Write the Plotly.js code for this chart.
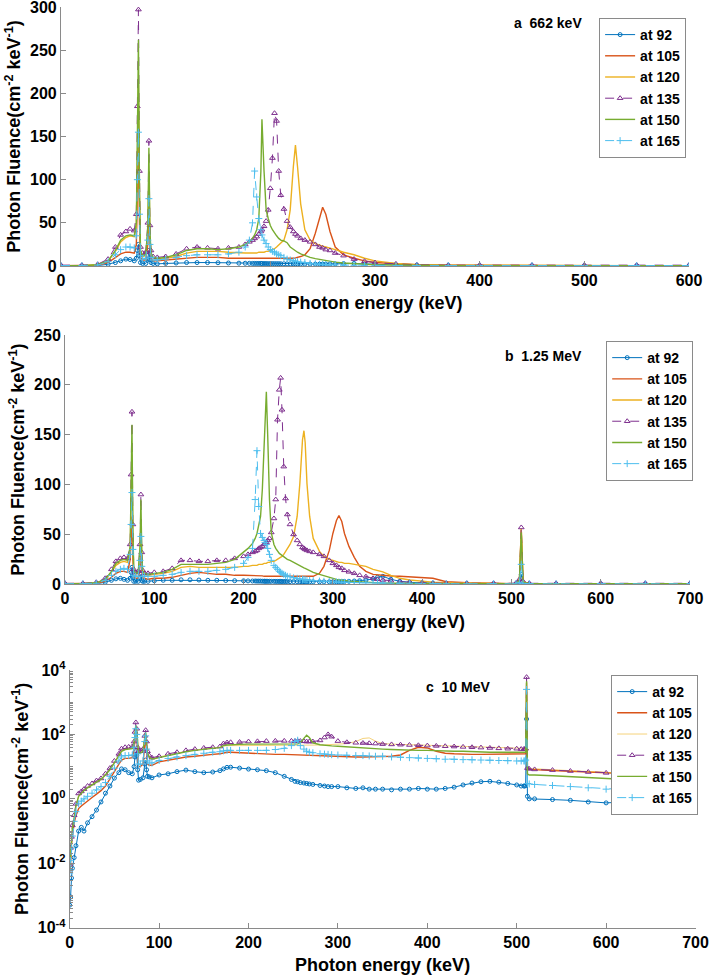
<!DOCTYPE html>
<html>
<head>
<meta charset="utf-8">
<script src="https://cdn.plot.ly/plotly-3.0.1.min.js"></script>
<style>html,body{margin:0;padding:0;background:#fff;}#chart{width:709px;height:978px;}</style>
</head>
<body>
<div id="chart"></div>
<script>
// ---------------- DATA ----------------
const seriesNames = ['at 92','at 105','at 120','at 135','at 150','at 165'];
const panelLabels = ['a\u00a0\u00a0662 keV','b\u00a0\u00a01.25 MeV','c\u00a0\u00a010 MeV'];

// Panel a: 662 keV
const energyA = [0,20,35,45,52,57,62,66,70,72, 73,74,75,76,78,81,83,84,85,86, 88,92,100,110,120,130,140,150,160,170, 176,180,183,185,187,189,191,192,194,196, 198,200,202,204,206,208,210,213,216,219, 222,224,226,229,233,238,243,247,250,253, 257,262,270,280,290,300,320,340,370,400, 450,500,550,600];
const a92  = [0.3,0.3,0.5,2,4,6,8,7.5,6,9, 18,25,12,4,3,3,8,18,7,4, 3,2.5,3,3.5,4,4,4,3.8,3.5,3.3, 3.2,3.1,3,3,3,3,3,2.9,2.9,2.9, 2.8,2.8,2.8,2.7,2.7,2.7,2.6,2.6,2.5,2.5, 2.5,2.4,2.4,2.4,2.3,2.3,2.2,2.2,2.2,2.2, 2.3,2.5,2.8,3,2.5,1.8,1.2,0.9,0.6,0.5, 0.4,0.4,0.4,0.4];
const a105 = [0.5,0.5,1,4,10,14,16,16,15,25, 80,140,50,10,7,7,25,60,20,8, 6,6,7,8,9,10,10,10,9,9, 9,8.5,8.5,8.5,8.5,8.5,8.5,8.5,8.5,8.5, 8.5,8.5,8.5,8.5,8.5,8.5,8.5,8.5,9,9, 9,9.5,10,11,13,20,38,56,68,60, 40,22,13,9,6,4,2.5,1.5,1,0.7, 0.5,0.5,0.5,0.5];
const a120 = [0.5,0.5,1.5,6,17,28,33,35,34,45, 130,210,80,16,11,12,40,110,35,13, 9,8,9,11,15,17,17,17,16,15, 15,15,15,15,15,16,16,16,16,17, 17,18,19,20,22,24,26,30,42,65, 115,140,115,72,42,30,26,24,23,22, 21,19,16,13,9,6,3,1.5,1,0.8, 0.5,0.5,0.5,0.5];
const a135 = [1,1,2,8,22,36,40,43,41,60, 185,297,110,22,15,16,50,145,47,18, 11,10,11,14,20,22,21,20,21,22, 25,28,30,32,34,37,40,42,46,52, 65,90,125,177,168,110,82,66,52,45, 40,37,35,32,30,28,25,22,21,19, 18,15,12,8,5.5,4,2.5,1.5,1,1, 1,1,1,1];
const a150 = [0.5,0.5,1.5,6,18,30,35,36,35,50, 150,262,90,18,12,13,45,137,40,15, 10,9,10,13,18,20,20,19,20,22, 25,28,32,36,42,55,110,170,110,65, 55,47,42,38,35,32,30,29,27,22, 19,17,16,14,12,10,8.5,7.5,7,6, 5.5,4.5,3.5,2.5,2,1.5,1,0.7,0.5,0.5, 0.5,0.5,0.5,0.5];
const a165 = [0.5,0.5,1,5,13,19,22,22,21,35, 100,155,60,12,8,9,30,78,25,10, 7,7,8,10,12,13,13,13,14,16, 22,30,50,110,80,55,42,36,30,26, 22,19,17,16,14,13,12,10,8,7, 6,5.5,5,4.5,4,3,2.5,2,2,1.5, 1.5,1.2,1,0.8,0.8,0.7,0.5,0.5,0.5,0.5, 0.5,0.5,0.5,0.5];

// Panel b: 1.25 MeV
const energyB = [0,20,35,45,52,57,62,66,70,73, 74,75,76,77,79,82,84,85,86,87, 89,93,100,110,120,130,140,150,160,170, 180,190,200,205,210,213,215,217,219,221, 223,224,225.5,227,229,231,234,236,238,240, 241.5,243,245,247,249,252,256,260,263,266, 267.6,269,271,274,278,285,290,296,300,304, 306.8,310,313,318,324,330,337,345,350,356, 365,375,386,400,412,427,450,480,505,509, 511,513,520,550,600,650,700];
const b92  = [0.3,0.3,0.5,2,4,5.5,6,5,4,6, 12,17,7,3,3,3,6,10,4,3, 3,3,3.5,4,4,4.5,4.5,4.3,4,4, 3.8,3.6,3.5,3.4,3.3,3.3,3.2,3.2,3.2,3.1, 3.1,3.1,3,3,3,3,3,2.9,2.9,2.9, 2.9,2.8,2.8,2.8,2.8,2.7,2.7,2.7,2.6,2.6, 2.6,2.6,2.6,2.5,2.5,2.5,2.5,2.5,2.5,2.6, 2.6,2.7,2.8,3,3.3,3.6,4.2,5.5,7,8, 5,3,2,1.5,1.2,1,0.8,0.6,0.5,1, 10,0.5,0.4,0.4,0.4,0.4,0.4];
const b105 = [0.5,0.5,1,3,7,11,13,13,12,25, 45,68,25,7,6,6,18,38,14,6, 6,5,6,6,7,9,11,12,11,10, 10,9,9,9,9,9,9,8.5,8.5,8.5, 8,8,8,8,8,8,8,8,8,8, 8,8,8,8,8,8,8,8,8,8, 8,8,8,8,8,11,18,34,51,64, 69,63,51,38,27,18,13,10,9.5,9, 8.3,8,7.6,6.8,6,2.6,1.5,1,0.6,5, 55,3,0.5,0.5,0.5,0.5,0.5];
const b120 = [0.5,0.5,1.5,5,12,19,22,23,22,35, 85,130,45,12,10,11,30,65,24,11, 10,9,10,11,13,17,18,17,17,17, 17,17,18,18,19,19,19,20,20,20, 21,21,21,22,22,23,23,24,25,26, 27,28,30,33,36,40,48,68,101,145, 154,142,101,68,46,33,28,25,24,23, 22,22,21,21,20,19,18,15,14,12.5, 9,6,4.3,3,2.2,1.6,1,0.8,0.6,5, 56,3,0.5,0.5,0.5,0.5,0.5];
const b135 = [1,1,2,6,15,23,26,27,26,40, 110,173,60,15,12,13,40,90,32,14, 11,11,12,13,16,24,24,23,23,24, 24,26,28,30,32,33,34,36,37,38, 40,41,42,44,46,52,66,85,165,195, 207,175,118,86,70,60,50,44,40,37, 36,35,34,33,32,30,28,24,21,19, 17,16,14,12.5,11,9,7.7,6,5,4.3, 3.5,2.6,2,1.5,1,1,1,1,1,5, 57,3,1,1,1,1,1];
const b150 = [0.5,0.5,1.5,5,13,21,24,25,24,38, 100,160,55,14,11,12,38,85,30,13, 11,10,11,12,15,20,20,20,20,21, 22,25,32,36,41,46,51,58,68,95, 140,168,193,150,85,52,40,36,33,31, 30,29,27,26,25,24,22,20,18,17, 16.5,16,15,14,12,10,8.5,7,6,5, 4.5,4,3.6,3.2,2.8,2.4,2,1.6,1.4,1.2, 1,0.8,0.6,0.5,0.5,0.5,0.5,0.5,0.5,4, 52,2,0.5,0.5,0.5,0.5,0.5];
const b165 = [0.5,0.5,1,4,9,13,15,16,15,30, 60,92,35,9,8,8,24,48,18,8, 8,8,8,9,10,12,13,13,13,14, 15,17,21,27,36,85,134,78,51,47, 44,42,40,36,30,24,19,17,15,13, 12,11,10,9,8,7.5,6.5,6,5.5,5, 4.8,4.5,4.3,4,3.6,3.2,3,2.7,2.5,2.3, 2.2,2.1,2,1.9,1.8,1.6,1.5,1.4,1.3,1.2, 1.1,1,1,0.8,0.7,0.6,0.5,0.5,0.5,2, 20,1,0.5,0.5,0.5,0.5,0.5];

// Panel c: 10 MeV (log scale)
const energyC = [0,1,2,3,5,7,10,13,16,20, 25,30,35,40,45,50,55,58,62,66, 70,72,73,74,75,76,77,79,82,84, 85,86,87,89,92,100,110,120,130,140, 150,160,168,172,176,180,190,200,210,220, 230,240,248,252,255,258,262,265,268,272, 280,285,289,293,300,310,320,328,335,342, 350,360,370,380,390,400,410,420,430,440, 450,460,470,480,490,500,505,508,509,510, 511,512,514,520,540,560,580,600,620,640, 660,680,700];
const c92  = [0.0005,0.0009,0.0035,0.007,0.015,0.035,0.1,0.13,0.1,0.18, 0.28,0.45,0.8,1.5,2.5,4.4,6.5,8.5,8,6.5, 6,10,20,29,22,8,3.8,4,4.5,12, 16,8,5,4.8,4.5,5.5,6,7,7.8,7, 6.5,6.8,7.5,8.5,9.5,9.6,9,8.4,8,7.5, 6.5,5,4,3.5,3.4,3.2,3.1,3,2.9,2.8, 2.6,2.5,2.4,2.4,2.4,2.2,2.1,2.2,2,2, 2,1.9,2,2,2.1,2,2,2.1,2.3,2.7, 3.1,3.4,3.5,3.3,3,2.7,2.5,2.5,2.5,2.6, 300,1.2,1,1,0.95,0.9,0.8,0.75,0.8,0.75, 0.7,0.72,0.75];
const c105 = [0.005,0.01,0.04,0.08,0.18,0.3,0.5,0.6,0.7,0.9, 1.1,1.4,1.8,2.5,4,7,12,16,18,18, 19,35,70,120,80,20,10,10,12,50, 90,30,12,11,11,14,16,18,20,21, 23,24,25,27,28,28,27,26,25,25, 24,24,23.5,23,23,23,22.5,22.5,22,22, 21.5,21,21,21,20,20,20,20,20,20, 20,21,23,32,40,38,30,26,25,24, 24,24,24,24,24,24,24,24,24,25, 4000,8.5,8.2,8,7.6,7.2,6.8,6.4,6,5.7, 5.4,5.1,4.9];
const c120 = [0.007,0.025,0.06,0.13,0.28,0.6,1.3,1.6,1.9,2.3, 2.8,3.5,4.2,5.8,8.5,14,24,33,37,38, 39,55,110,200,135,36,27,27,32,85, 120,55,27,21,18,20,23,27,30,33, 36,38,40,44,45,45,45,45,45,45, 46,46,46,46,46,46,46,46,46,47, 47,47,48,48,50,52,60,75,78,62, 52,50,49,48,47,46,45,44,43,42, 41,40,39,38,37,37,36,36,36,37, 5000,9,8.8,8.5,8,7.5,7,6.6,6.2,5.9, 5.6,5.3,5.1];
const c135 = [0.009,0.03,0.066,0.15,0.31,0.7,1.47,1.7,2,2.5, 3,3.7,4.3,6,9,15,25,36,40,41, 42,60,120,235,150,40,30,30,35,90, 135,60,30,22,19,21,25,28,32,35, 38,40,42,52,56,57,58,60,61,62, 63,63,63,62,62,62,61,60,60,60, 65,80,100,85,62,57,55,54,53,52, 50,49,48,47,46,45,44,43,42,41, 40,39,38,37,36,36,35,35,35,36, 6000,9,8.5,8.2,7.8,7.3,6.8,6.4,6,5.7, 5.4,5.1,5];
const c150 = [0.006,0.02,0.05,0.12,0.25,0.6,1.2,1.5,1.8,2.2, 2.7,3.3,4,5.5,8,13,22,30,34,35, 36,55,110,190,130,35,26,26,30,80, 115,50,26,20,17,19,22,26,29,32, 35,37,39,45,47,48,49,50,50,50, 50,50,50,50,51,55,75,95,80,55, 48,46,45,44,43,41,39,38,37,36, 35,34,33,33,32,32,31,31,30,30, 29,29,28,28,28,27.6,27,27,27,28, 4500,6,5.5,5.5,5.2,4.9,4.6,4.3,4,3.8, 3.6,3.3,3.1];
const c165 = [0.005,0.012,0.03,0.07,0.2,0.4,0.7,0.85,1,1.2, 1.5,1.9,2.4,3.2,5,9,15,20,22,22, 23,40,80,150,100,25,12,12,15,60, 90,35,15,13,13,15.5,18,20,22,24, 26,28,29,31,32,32,32,32,32,32, 34,37,45,60,66,45,35,30,28,27, 25,24.5,24,23.5,23,22.5,22,22,21.5,21, 21,20,19.5,19,18.5,18,17.5,17,16.8,16.5, 16.3,16,15.8,15.5,15.3,15,15,15,15,16, 2500,3,2.9,2.8,2.6,2.4,2.2,2,1.9,1.8, 1.7,1.6,1.5];

const xTitle = 'Photon energy (keV)';
const yTitle = 'Photon Fluence(cm<sup>-2</sup> keV<sup>-1</sup>)';

// ---------------- STYLE ----------------
const FONT = 'Liberation Sans, Arial, Helvetica, sans-serif';
const colors = ['#0072BD','#D95319','#EDB120','#7E2F8E','#77AC30','#4DBEEE'];

function styleFor(i, panel) {
  const c = colors[i];
  const lw = 1.4;
  switch (i) {
    case 0: return {mode:'lines+markers', line:{color:c,width:1}, marker:{symbol:'circle-open',size:4,color:c,line:{color:c,width:1}}};
    case 1: return {mode:'lines', line:{color:c,width:lw}};
    case 2: return {mode:'lines', line:{color:c,width: panel===2 ? 0.6 : lw}};
    case 3: return {mode:'lines+markers', line:{color:c,width:1,dash:'dash'}, marker:{symbol:'triangle-up-open',size:5,color:c,line:{color:c,width:1}}};
    case 4: return {mode:'lines', line:{color:c,width:lw}};
    case 5: return {mode:'lines+markers', line:{color:c,width:1,dash:'dash'}, marker:{symbol:'cross-thin-open',size:5,color:c,line:{color:c,width:1}}};
  }
}

const panels = [
  {x: energyA, ys: [a92,a105,a120,a135,a150,a165]},
  {x: energyB, ys: [b92,b105,b120,b135,b150,b165]},
  {x: energyC, ys: [c92,c105,c120,c135,c150,c165]}
];

const traces = [];
panels.forEach((p, pi) => {
  p.ys.forEach((y, si) => {
    const t = Object.assign({
      type:'scatter', x: p.x, y: y, name: seriesNames[si],
      xaxis: pi===0 ? 'x' : 'x'+(pi+1),
      yaxis: pi===0 ? 'y' : 'y'+(pi+1),
      legend: pi===0 ? 'legend' : 'legend'+(pi+1),
      hoverinfo:'x+y+name'
    }, styleFor(si, pi));
    traces.push(t);
  });
});

const axisLine = '#8a8a8a';
const tickFont = {family:FONT, size:16, color:'#000', weight:'bold'};
const titleFont = {family:FONT, size:18, color:'#000', weight:'bold'};

function xAx(domain, range, anchor) {
  return {domain, range, anchor, showline:true, linecolor:axisLine, linewidth:1,
    ticks:'inside', ticklen:5, tickcolor:axisLine, showgrid:false, zeroline:false,
    dtick:100, tick0:0, tickfont:tickFont, ticklabeloverflow:'allow',
    title:{text:xTitle, font:titleFont, standoff:8}};
}
function yAx(domain, range, anchor, extra) {
  return Object.assign({domain, range, anchor, showline:true, linecolor:axisLine, linewidth:1,
    ticks:'inside', ticklen:5, tickcolor:axisLine, showgrid:false, zeroline:false,
    tickfont:tickFont, ticklabeloverflow:'allow', title:{text:yTitle, font:titleFont, standoff:4}}, extra||{});
}

// log axis ticks for panel c: labelled even decades, minor ticks elsewhere
const logMajor = [], logText = [], logMinor = [];
for (let k = -4; k <= 4; k++) {
  if (k % 2 === 0) { logMajor.push(Math.pow(10,k)); logText.push('10<sup>' + k + '</sup>'); }
  else logMinor.push(Math.pow(10,k));
  if (k < 4) for (let m = 2; m <= 9; m++) logMinor.push(m*Math.pow(10,k));
}

const legendBase = {bgcolor:'#fff', bordercolor:'#8a8a8a', borderwidth:1,
  font:{family:FONT, size:14, color:'#000', weight:'bold'}, xanchor:'left', yanchor:'top',
  itemwidth:30, tracegroupgap:0};

const layout = {
  width:709, height:978,
  margin:{l:0,r:0,t:0,b:0},
  paper_bgcolor:'#fff', plot_bgcolor:'#fff',
  showlegend:true,
  font:{family:FONT, color:'#000'},
  xaxis:  xAx([0.0860,0.9718],[0,600],'y'),
  yaxis:  yAx([0.7280,0.99284],[0,300],'x', {dtick:50}),
  xaxis2: xAx([0.0917,0.9732],[0,700],'y2'),
  yaxis2: yAx([0.40256,0.65746],[0,250],'x2', {dtick:50}),
  xaxis3: xAx([0.0983,0.9810],[0,700],'y3'),
  yaxis3: yAx([0.05143,0.31493],[-4,4],'x3', {type:'log', tickmode:'array', tickvals:logMajor, ticktext:logText,
            minor:{tickmode:'array', tickvals:logMinor, ticks:'inside', ticklen:3, tickcolor:axisLine, showgrid:false}}),
  legend:  Object.assign({}, legendBase, {x:0.845, y:0.9816}),
  legend2: Object.assign({}, legendBase, {x:0.855, y:0.6513}),
  legend3: Object.assign({}, legendBase, {x:0.862, y:0.3098}),
  annotations: [
    {text:panelLabels[0], xref:'paper', yref:'paper', x:548/709, y:1-23/978, showarrow:false, xanchor:'center', yanchor:'middle', font:{family:FONT,size:14,color:'#000',weight:'bold'}},
    {text:panelLabels[1], xref:'paper', yref:'paper', x:543/709, y:1-356/978, showarrow:false, xanchor:'center', yanchor:'middle', font:{family:FONT,size:14,color:'#000',weight:'bold'}},
    {text:panelLabels[2], xref:'paper', yref:'paper', x:458/709, y:1-687/978, showarrow:false, xanchor:'center', yanchor:'middle', font:{family:FONT,size:14,color:'#000',weight:'bold'}}
  ]
};

Plotly.newPlot('chart', traces, layout, {staticPlot:true, displayModeBar:false});
</script>
</body>
</html>
